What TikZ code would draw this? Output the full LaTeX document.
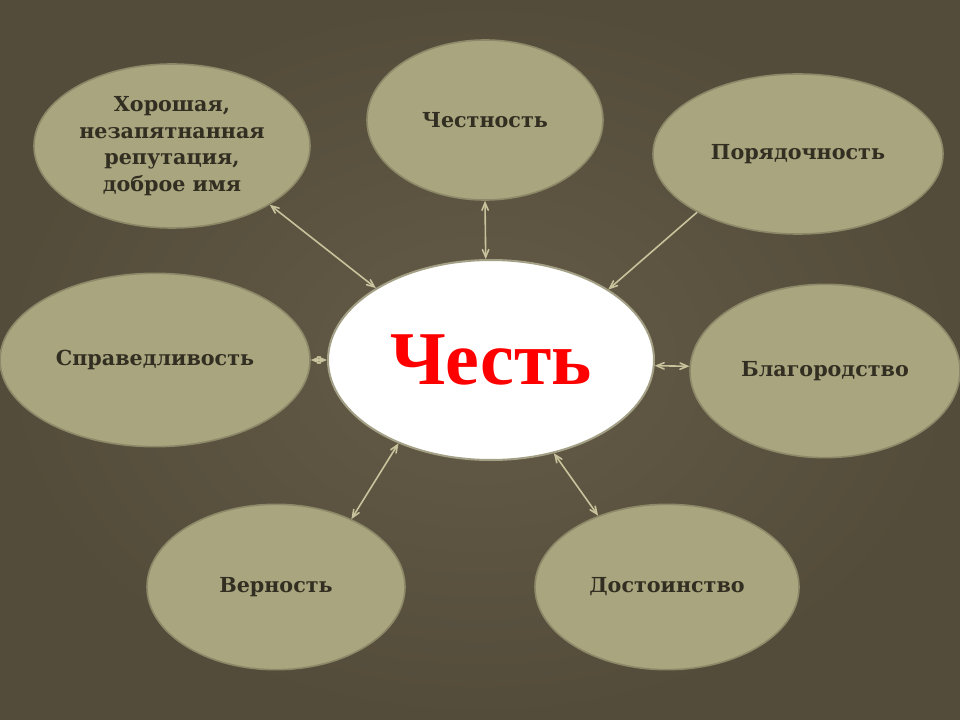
\documentclass[tikz,border=0pt]{standalone}
\usepackage{fontspec}
\setmainfont{DejaVu Serif}
\newfontfamily\titlefont{Liberation Serif}
\usetikzlibrary{shapes,arrows,backgrounds}

\definecolor{bgdark}{RGB}{84,76,58}
\definecolor{bglight}{RGB}{100,92,72}
\definecolor{oval}{RGB}{168,165,127}
\definecolor{ovalline}{RGB}{140,136,104}
\definecolor{ink}{RGB}{50,46,33}
\definecolor{link}{RGB}{200,195,156}

\begin{document}
\begin{tikzpicture}[x=0.75pt,y=-0.75pt,>=angle 45,
every oval/.style={ellipse,fill=oval,draw=ovalline,line width=1.2pt,inner sep=0pt,
    text=ink,align=center,font=\bfseries\fontsize{15.5}{20}\selectfont},
hub/.style={ellipse,fill=white,draw=ovalline!80!white,line width=1.5pt,inner sep=0pt,
    text=red,font=\titlefont\bfseries\fontsize{57}{60}\selectfont},
link/.style={draw=link,line width=1.2pt}]

% slide background
\shade[inner color=bglight,outer color=bgdark] (0,0) rectangle (960,720);
\useasboundingbox (0,0) rectangle (960,720);

\node[hub,minimum width=244.5pt,minimum height=150pt](chest) at (491,360) {Честь};

\node[every oval,minimum width=207pt,minimum height=123pt](hor) at (172,146)
    {Хорошая,\\ незапятнанная\\ репутация,\\ доброе имя};
\node[every oval,minimum width=177pt,minimum height=120pt](honesty) at (485,120) {Честность};
\node[every oval,minimum width=217.5pt,minimum height=120pt](decency) at (798,154) {Порядочность};
\node[every oval,minimum width=232.5pt,minimum height=130pt](justice) at (155,360) {Справедливость};
\node[every oval,minimum width=202.5pt,minimum height=130pt](nobility) at (825,371) {Благородство};
\node[every oval,minimum width=193.5pt,minimum height=124pt](loyalty) at (276,587) {Верность};
\node[every oval,minimum width=198pt,minimum height=124pt](dignity) at (667,587) {Достоинство};

\path[link]
      (hor.-31) edge[<->] (chest.148)
      (honesty.-90) edge[<->] (chest.93)
      (decency.210) edge[->] (chest.31)
      (justice.0) edge[<->] (chest.180)
      (nobility.178) edge[<->] (chest.-2)
      (loyalty.42) edge[<->] (chest.222)
      (dignity.134) edge[<->] (chest.-56)
     ;

\end{tikzpicture}
\end{document}
